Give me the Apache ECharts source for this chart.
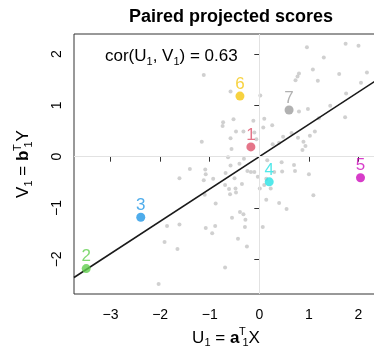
<!DOCTYPE html>
<html>
<head>
<meta charset="utf-8">
<script src="https://cdn.jsdelivr.net/npm/echarts@6/dist/echarts.min.js"></script>
<style>
  html, body { margin: 0; background: #fff; }
  #chart { width: 374px; height: 346px; }
</style>
</head>
<body>
<div id="chart"></div>
<script>
// background sample of paired scores (U1, V1)
const grayU = [
  -1.12, -0.58, 0.02, 0.96, 1.74, 2.00, 1.30, 0.80, 0.77, 0.73, 1.08, 1.18, 1.61, 2.17, 2.05,
  1.75, 0.80, 0.98, 1.43, 1.20, 1.73, -0.73, -0.74, -0.52, -0.12, 0.10, 0.26, 0.08, -0.47, -0.58,
  -0.32, -0.10, -0.06, -1.16, -0.56, 0.48, 0.27, 0.40, 0.65, 0.78, 1.02, 1.12, 0.89, 0.93, 0.87,
  -0.63, -0.31, -0.58, -0.40, -0.93, -0.68, -0.50, -0.35, -0.69, -0.61, -0.48, -0.59, -0.47, -0.88, -0.24,
  -0.17, -0.10, -0.03, 0.01, 0.14, 0.10, 0.23, 0.14, 0.16, 0.30, 0.45, 0.46, 0.70, 0.72, 1.00,
  1.09, 0.40, 0.55, -0.39, -0.32, -0.28, -0.55, -0.89, -0.95, -0.29, 0.07, -0.43, -0.25, -0.69,
  -1.40, -1.09, -1.08, -1.61, -1.12, -1.10, -1.86, -1.61, -1.08, -1.91, -1.65, -2.03
];
const grayV = [
  1.59, 1.27, 1.19, 2.13, 2.20, 2.16, 1.93, 1.62, 1.56, 1.49, 1.70, 1.48, 1.61, 1.64, 1.44,
  1.23, 0.88, 0.93, 0.99, 0.75, 0.77, 0.67, 0.60, 0.73, 0.70, 0.74, 0.61, 0.57, 0.49, 0.36,
  0.49, 0.47, 0.34, 0.29, 0.15, 0.39, 0.24, 0.27, 0.46, 0.37, 0.41, 0.49, 0.29, 0.21, 0.13,
  -0.01, -0.04, -0.17, -0.14, -0.43, -0.32, -0.42, -0.53, -0.55, -0.63, -0.62, -0.73, -0.70, -0.91, -0.28,
  -0.30, -0.30, -0.39, -0.62, -0.43, -0.55, -0.62, -0.84, -0.07, -0.30, -0.11, -0.29, -0.16, -0.28, -0.34,
  -0.75, -0.90, -1.02, -1.08, -1.12, -1.23, -1.19, -1.35, -1.49, -1.37, -1.37, -1.60, -1.75, -2.16,
  -0.24, -0.25, -0.34, -0.42, -0.46, -0.74, -1.35, -1.32, -1.39, -1.66, -1.80, -2.48
];

// highlighted observations
const pointIds = ['1', '2', '3', '4', '5', '6', '7'];
const pointU = [-0.17, -3.49, -2.39, 0.20, 2.04, -0.39, 0.60];
const pointV = [0.19, -2.18, -1.18, -0.49, -0.41, 1.18, 0.91];

const corValue = 0.63;
const fitSlope = 0.63;

const xTicks = [-3, -2, -1, 0, 1, 2];
const yTicks = [-2, -1, 0, 1, 2];

const palette = ['#DF536B', '#61D04F', '#2297E6', '#28E2E5', '#CD0BBC', '#F5C710', '#9E9E9E'];
const FONT = '"Liberation Sans", Arial, Helvetica, sans-serif';

const xMin = -3.736, xMax = 2.393;
const yMin = -2.675, yMax = 2.39;

const minus = v => String(v).replace('-', '\u2212');

const chart = echarts.init(document.getElementById('chart'));

// T stacked over the subscript 1: the T fragment takes (almost) no width
const axisRich = {
  n: { fontSize: 17, fontFamily: FONT, color: '#000', lineHeight: 22 },
  b: { fontSize: 17, fontFamily: FONT, color: '#000', fontWeight: 'bold', lineHeight: 22 },
  s: { fontSize: 11, fontFamily: FONT, color: '#000', lineHeight: 11, verticalAlign: 'bottom' },
  t: {
    fontSize: 11, fontFamily: FONT, color: '#000', lineHeight: 11, verticalAlign: 'top',
    width: 0.1, padding: [0, 0, 0, 3]
  }
};

chart.setOption({
  animation: false,
  title: {
    text: 'Paired projected scores',
    left: 226,
    textAlign: 'center',
    top: 3,
    textStyle: { fontFamily: FONT, fontSize: 18, fontWeight: 'bold', color: '#000' }
  },
  grid: {
    left: 74, top: 34, width: 304, height: 260,
    outerBoundsMode: 'none',
    containLabel: false,
    show: true, borderColor: '#333', borderWidth: 1, backgroundColor: 'transparent'
  },
  xAxis: {
    type: 'value', min: xMin, max: xMax,
    splitLine: { show: false },
    axisLine: { show: false },
    axisTick: { show: true, length: 5, customValues: xTicks, lineStyle: { color: '#333' } },
    axisLabel: {
      customValues: xTicks, formatter: minus, margin: 14,
      fontFamily: FONT, fontSize: 14, color: '#000'
    },
    name: '{n|U}{s|1}{n| = }{b|a}{t|T}{s|1}{n|X}',
    nameLocation: 'middle', nameGap: 29,
    nameTextStyle: { rich: axisRich }
  },
  yAxis: {
    type: 'value', min: yMin, max: yMax,
    splitLine: { show: false },
    axisLine: { show: false },
    axisTick: { show: true, length: 5, customValues: yTicks, lineStyle: { color: '#333' } },
    axisLabel: {
      customValues: yTicks, formatter: minus, margin: 10, rotate: 90,
      fontFamily: FONT, fontSize: 14, color: '#000'
    },
    name: '{n|V}{s|1}{n| = }{b|b}{t|T}{s|1}{n|Y}',
    nameLocation: 'middle', nameGap: 40,
    nameTextStyle: { rich: axisRich }
  },
  graphic: [{
    type: 'text', left: 105, top: 48, z: 10,
    style: {
      text: '{n|cor(U}{s|1}{n|, V}{s|1}{n|) = ' + corValue.toFixed(2) + '}',
      rich: {
        n: { fontSize: 17, fontFamily: FONT, fill: '#000', lineHeight: 22 },
        s: { fontSize: 11, fontFamily: FONT, fill: '#000', lineHeight: 11, verticalAlign: 'bottom' }
      }
    }
  }],
  series: [
    {
      type: 'scatter', data: [], silent: true,
      markLine: {
        silent: true, symbol: 'none', label: { show: false },
        lineStyle: { color: '#e2e2e2', width: 1, type: 'solid' },
        data: [{ xAxis: 0 }, { yAxis: 0 }]
      }
    },
    {
      type: 'scatter', symbolSize: 4, silent: true,
      itemStyle: { color: '#c4c4c4' },
      data: grayU.map((u, i) => [u, grayV[i]])
    },
    {
      type: 'line', showSymbol: false, silent: true, z: 3,
      lineStyle: { color: '#1a1a1a', width: 1.6 },
      data: [[xMin, fitSlope * xMin], [xMax, fitSlope * xMax]]
    },
    {
      type: 'scatter', symbolSize: 9, z: 4,
      data: pointIds.map((id, i) => ({
        value: [pointU[i], pointV[i]],
        name: id,
        itemStyle: { color: palette[i] },
        label: { color: palette[i] }
      })),
      label: {
        show: true, position: 'top', distance: -1,
        formatter: p => p.name,
        fontFamily: FONT, fontSize: 17
      }
    }
  ]
});
</script>
</body>
</html>
